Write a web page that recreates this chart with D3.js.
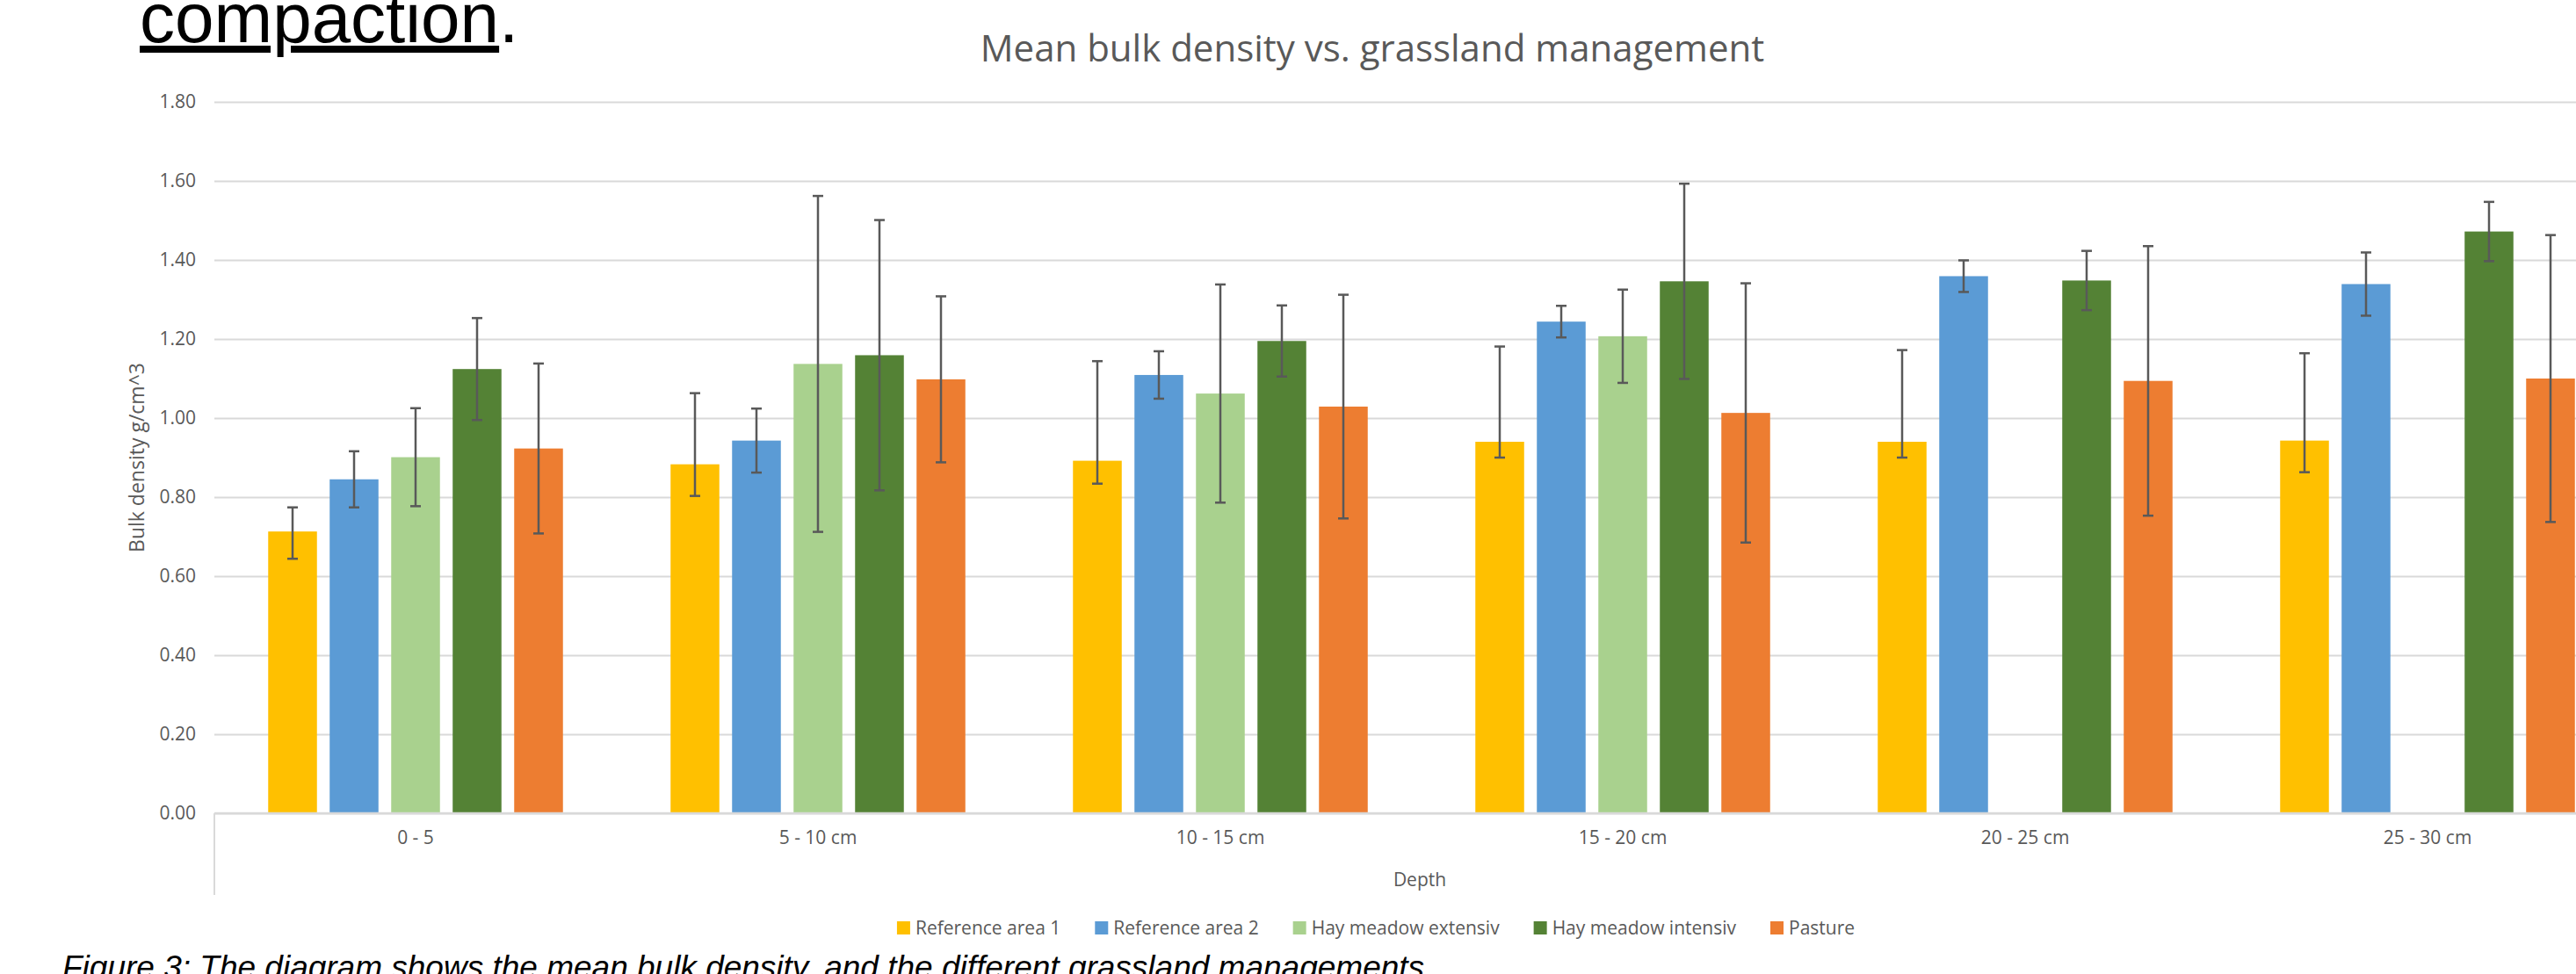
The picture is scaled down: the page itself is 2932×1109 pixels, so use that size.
<!DOCTYPE html>
<html>
<head>
<meta charset="utf-8">
<title>Mean bulk density vs. grassland management</title>
<script src="https://cdn.jsdelivr.net/npm/d3@7/dist/d3.min.js"></script>
<style>
  html, body { margin: 0; padding: 0; background: #fff; }
  svg { display: block; }
  .grid line { stroke: #d9d9d9; stroke-width: 2px; }
  .ylab text, .xlab text { fill: #595959; font-family: "Open Sans", sans-serif; font-size: 21px; }
</style>
</head>
<body>
<svg id="chart" width="2932" height="1109"></svg>

<script>
  // categories and series
  var depths = ['0 - 5', '5 - 10 cm', '10 - 15 cm', '15 - 20 cm', '20 - 25 cm', '25 - 30 cm'];
  var seriesNames = ['Reference area 1', 'Reference area 2', 'Hay meadow extensiv', 'Hay meadow intensiv', 'Pasture'];
  var seriesColors = ['#FFC000', '#5B9BD5', '#A9D18E', '#548235', '#ED7D31'];
  var yTicks = [0, 0.2, 0.4, 0.6, 0.8, 1.0, 1.2, 1.4, 1.6, 1.8];

  // mean bulk density (g/cm^3) per depth
  var ref1 = [0.713, 0.883, 0.892, 0.940, 0.940, 0.943];
  var ref2 = [0.845, 0.943, 1.109, 1.244, 1.359, 1.339];
  var hayExt = [0.901, 1.137, 1.062, 1.207, null, null];
  var hayInt = [1.124, 1.159, 1.195, 1.346, 1.348, 1.472];
  var pasture = [0.923, 1.098, 1.029, 1.013, 1.094, 1.100];

  // error bars (+ / -)
  var ref1Plus = [0.061, 0.180, 0.252, 0.241, 0.232, 0.221];
  var ref1Minus = [0.069, 0.080, 0.058, 0.040, 0.040, 0.080];
  var ref2Err = [0.071, 0.081, 0.060, 0.040, 0.040, 0.080];
  var hayExtErr = [0.124, 0.425, 0.276, 0.118, null, null];
  var hayIntErr = [0.129, 0.342, 0.090, 0.247, 0.075, 0.075];
  var pastureErr = [0.215, 0.210, 0.283, 0.328, 0.341, 0.363];

  var values = [ref1, ref2, hayExt, hayInt, pasture];
  var errPlus = [ref1Plus, ref2Err, hayExtErr, hayIntErr, pastureErr];
  var errMinus = [ref1Minus, ref2Err, hayExtErr, hayIntErr, pastureErr];

  var svg = d3.select('#chart');

  var plot = { left: 244, right: 2992, top: 116, bottom: 926 };

  var x0 = d3.scaleBand().domain(depths).range([plot.left, plot.right]).padding(0);
  var x1 = d3.scaleBand().domain(d3.range(seriesNames.length))
    .range([0, x0.bandwidth()]).paddingInner(0.207).paddingOuter(0.875);
  var y = d3.scaleLinear().domain([0, 1.8]).range([plot.bottom, plot.top]);

  // top-left leftover of the slide
  var comp = svg.append('text')
    .attr('x', 159).attr('y', 48)
    .style('font-family', '"Liberation Sans", Arial, sans-serif')
    .style('font-size', '80px')
    .attr('fill', '#000');
  comp.append('tspan').style('text-decoration', 'underline').text('compaction');
  comp.append('tspan').text('.');

  // chart title
  svg.append('text')
    .attr('x', 1562).attr('y', 70)
    .attr('text-anchor', 'middle')
    .style('font-family', '"Open Sans", sans-serif')
    .style('font-size', '42px')
    .attr('fill', '#595959')
    .text('Mean bulk density vs. grassland management');

  // gridlines
  svg.append('g').attr('class', 'grid')
    .attr('transform', 'translate(' + plot.left + ',0)')
    .call(d3.axisLeft(y).tickValues(yTicks).tickSize(-(plot.right - plot.left)).tickFormat(''))
    .call(g => g.select('.domain').remove());

  // y tick labels
  svg.append('g').attr('class', 'ylab')
    .attr('transform', 'translate(' + 226 + ',0)')
    .call(d3.axisLeft(y).tickValues(yTicks).tickSize(0).tickPadding(3).tickFormat(d3.format('.2f')))
    .call(g => g.select('.domain').remove());

  // category axis box line
  svg.append('line')
    .attr('x1', plot.left).attr('x2', plot.left)
    .attr('y1', plot.bottom).attr('y2', 1019)
    .attr('stroke', '#d9d9d9').attr('stroke-width', 2);

  // bars
  var groups = svg.append('g').selectAll('g')
    .data(depths)
    .join('g')
    .attr('transform', d => 'translate(' + x0(d) + ',0)');

  groups.each(function (dep, di) {
    var g = d3.select(this);
    var rows = seriesNames.map((s, si) => ({ si: si, v: values[si][di], p: errPlus[si][di], m: errMinus[si][di] }))
      .filter(r => r.v != null);

    g.selectAll('rect')
      .data(rows)
      .join('rect')
      .attr('x', r => x1(r.si))
      .attr('width', x1.bandwidth())
      .attr('y', r => y(r.v))
      .attr('height', r => y(0) - y(r.v))
      .attr('fill', r => seriesColors[r.si]);

    var eb = g.selectAll('g.err')
      .data(rows)
      .join('g')
      .attr('class', 'err')
      .attr('stroke', '#595959')
      .attr('stroke-width', 2.5);
    eb.append('line')
      .attr('x1', r => x1(r.si) + x1.bandwidth() / 2)
      .attr('x2', r => x1(r.si) + x1.bandwidth() / 2)
      .attr('y1', r => y(r.v + r.p))
      .attr('y2', r => y(r.v - r.m));
    [1, -1].forEach(sgn => {
      eb.append('line')
        .attr('x1', r => x1(r.si) + x1.bandwidth() / 2 - 6)
        .attr('x2', r => x1(r.si) + x1.bandwidth() / 2 + 6)
        .attr('y1', r => y(sgn > 0 ? r.v + r.p : r.v - r.m))
        .attr('y2', r => y(sgn > 0 ? r.v + r.p : r.v - r.m));
    });
  });

  // baseline
  svg.append('line')
    .attr('x1', plot.left).attr('x2', plot.right)
    .attr('y1', y(0)).attr('y2', y(0))
    .attr('stroke', '#d9d9d9').attr('stroke-width', 2.5);

  // x category labels
  svg.append('g').attr('class', 'xlab')
    .attr('transform', 'translate(0,' + (plot.bottom + 20) + ')')
    .call(d3.axisBottom(x0).tickSize(0).tickPadding(0))
    .call(g => g.select('.domain').remove());

  // axis titles
  svg.append('text')
    .attr('x', x0.range()[0] + (x0.range()[1] - x0.range()[0]) / 2 - 2)
    .attr('y', 1009)
    .attr('text-anchor', 'middle')
    .style('font-family', '"Open Sans", sans-serif').style('font-size', '21px')
    .attr('fill', '#595959')
    .text('Depth');

  svg.append('text')
    .attr('transform', 'translate(164,' + ((plot.top + plot.bottom) / 2) + ') rotate(-90)')
    .attr('text-anchor', 'middle')
    .style('font-family', '"Open Sans", sans-serif').style('font-size', '23px')
    .attr('fill', '#595959')
    .text('Bulk density g/cm^3');

  // legend
  var legend = svg.append('g');
  var lx = 0;
  seriesNames.forEach((name, i) => {
    var item = legend.append('g').attr('transform', 'translate(' + lx + ',0)');
    item.append('rect').attr('x', 0).attr('y', 1049).attr('width', 15).attr('height', 15)
      .attr('fill', seriesColors[i]);
    var t = item.append('text').attr('x', 21).attr('y', 1064)
      .style('font-family', '"Open Sans", sans-serif').style('font-size', '21px')
      .attr('fill', '#595959').text(name);
    lx += 21 + t.node().getComputedTextLength() + 39;
  });
  var legendW = lx - 39;
  legend.attr('transform', 'translate(' + (1566 - legendW / 2) + ',0)');

  // figure caption (cut by the bottom edge)
  svg.append('text')
    .attr('x', 71).attr('y', 1114)
    .style('font-family', '"Liberation Sans", Arial, sans-serif')
    .style('font-size', '37px').style('font-style', 'italic')
    .attr('fill', '#000')
    .text('Figure 3: The diagram shows the mean bulk density, and the different grassland managements');
</script>
</body>
</html>
